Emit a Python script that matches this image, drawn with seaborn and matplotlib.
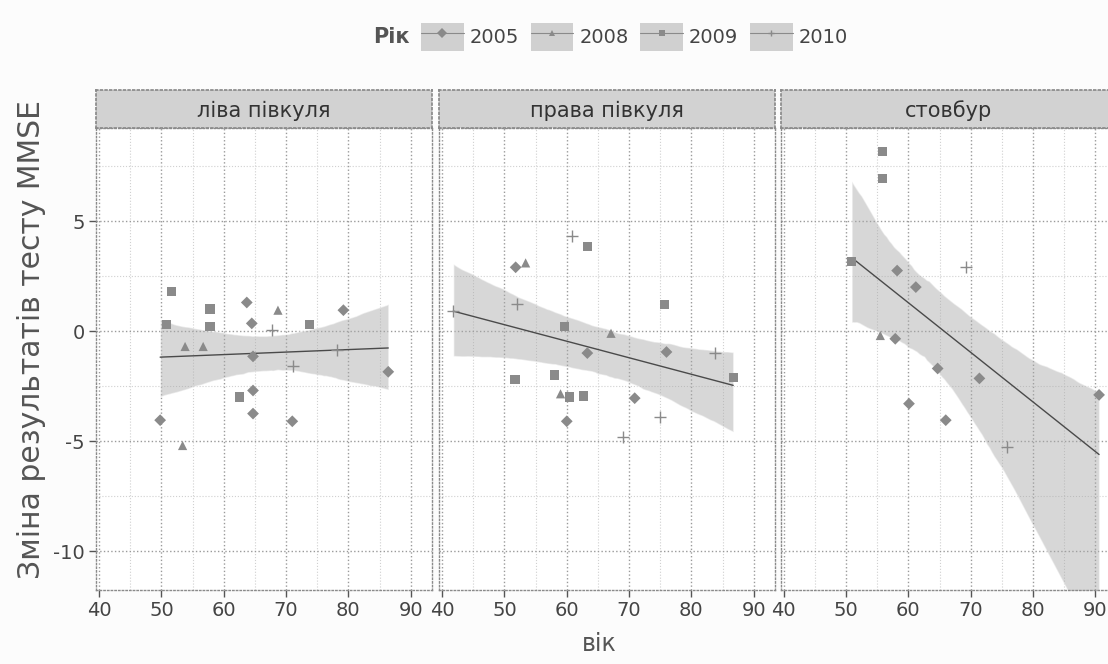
import matplotlib
matplotlib.use('Agg')
import matplotlib.pyplot as plt
import seaborn as sns
import pandas as pd
from matplotlib.lines import Line2D
from matplotlib.patches import Patch

# Зміна результатів MMSE залежно від віку, по локалізації ураження
regions = ['ліва півкуля', 'права півкуля', 'стовбур']
years = ['2005', '2008', '2009', '2010']

left_age = [51.6, 57.8, 63.7, 68.7, 79.2, 50.8, 57.8, 64.5, 73.8, 53.8, 56.7, 64.7,
            86.4, 67.7, 71.1, 78.1, 64.7, 62.5, 64.7, 49.8, 71.0, 53.4]
left_change = [1.8, 1.0, 1.3, 0.95, 0.95, 0.3, 0.2, 0.35, 0.3, -0.7, -0.7, -1.15,
               -1.85, 0.05, -1.6, -0.85, -2.7, -3.0, -3.75, -4.05, -4.1, -5.2]
left_year = ['2009', '2009', '2005', '2008', '2005', '2009', '2009', '2005', '2009', '2008', '2008', '2005',
             '2005', '2010', '2010', '2010', '2005', '2009', '2005', '2005', '2005', '2008']

right_age = [60.9, 63.3, 51.8, 53.4, 52.0, 41.8, 75.7, 59.6, 67.1, 63.3, 76.0, 86.7,
             51.7, 58.0, 59.0, 60.4, 62.7, 60.0, 70.9, 74.9, 69.0, 83.8]
right_change = [4.3, 3.85, 2.9, 3.1, 1.25, 0.9, 1.2, 0.2, -0.1, -1.0, -0.95, -2.1,
                -2.2, -2.0, -2.85, -3.0, -2.95, -4.1, -3.05, -3.9, -4.8, -1.0]
right_year = ['2010', '2009', '2005', '2008', '2010', '2010', '2009', '2009', '2008', '2005', '2005', '2009',
              '2009', '2009', '2008', '2009', '2009', '2005', '2005', '2010', '2010', '2010']

stem_age = [55.9, 55.9, 50.9, 58.2, 61.2, 69.3, 55.5, 57.9, 64.7, 71.4, 60.1, 66.0, 90.6, 75.8]
stem_change = [8.15, 6.95, 3.15, 2.75, 2.0, 2.9, -0.2, -0.35, -1.7, -2.15, -3.3, -4.05, -2.9, -5.25]
stem_year = ['2009', '2009', '2009', '2005', '2005', '2010', '2008', '2005', '2005', '2005', '2005', '2005',
             '2005', '2010']

frames = []
for reg, a, c, y in zip(regions, [left_age, right_age, stem_age],
                        [left_change, right_change, stem_change],
                        [left_year, right_year, stem_year]):
    frames.append(pd.DataFrame({'область': reg, 'вік': a, 'зміна': c, 'рік': y}))
df = pd.concat(frames, ignore_index=True)

markers = {'2005': 'D', '2008': '^', '2009': 's', '2010': '+'}
msize = {'2005': 36, '2008': 44, '2009': 44, '2010': 80}

sns.set_theme(style='white')
plt.rcParams['font.family'] = ['DejaVu Sans']
plt.rcParams['axes.unicode_minus'] = False

fig = plt.figure(figsize=(11.08, 6.64), dpi=100)
fig.patch.set_facecolor('#fcfcfc')

panel_left = [0.0866, 0.3962, 0.7045]
pt_gray = '#8a8a8a'

for i, reg in enumerate(regions):
    sub = df[df['область'] == reg]
    ax = fig.add_axes([panel_left[i], 0.1114, 0.3032, 0.6958])
    ax.set_facecolor('white')

    sns.regplot(data=sub, x='вік', y='зміна', ax=ax, scatter=False, ci=95, seed=1,
                line_kws={'color': '#4a4a4a', 'lw': 1.0, 'zorder': 3})
    for coll in ax.collections:
        coll.set_facecolor('#a8a8a8')
        coll.set_alpha(0.45)
        coll.set_zorder(2)

    for yr in years:
        pts = sub[sub['рік'] == yr]
        if yr == '2010':
            sns.scatterplot(data=pts, x='вік', y='зміна', ax=ax, marker='+', s=msize[yr],
                            color=pt_gray, linewidth=1.0, zorder=4)
        else:
            sns.scatterplot(data=pts, x='вік', y='зміна', ax=ax, marker=markers[yr], s=msize[yr],
                            color=pt_gray, edgecolor='none', zorder=4)

    ax.set_xlim(39.5, 93.4)
    ax.set_ylim(-11.77, 9.23)
    ax.set_xticks([40, 50, 60, 70, 80, 90])
    ax.set_xticks([45, 55, 65, 75, 85], minor=True)
    ax.set_yticks([-10, -5, 0, 5])
    ax.set_yticks([-7.5, -2.5, 2.5, 7.5], minor=True)
    ax.grid(which='major', ls=':', color='#9a9a9a', lw=1.0)
    ax.grid(which='minor', ls=':', color='#d0d0d0', lw=0.8)
    ax.set_axisbelow(True)
    for s in ax.spines.values():
        s.set_linestyle(':')
        s.set_color('#8a8a8a')
        s.set_linewidth(1.0)
    ax.tick_params(which='major', direction='out', length=5, width=1.0, color='#555555',
                   labelsize=14, labelcolor='#444444', pad=3, bottom=True, left=(i == 0))
    ax.tick_params(which='minor', length=0)
    if i > 0:
        ax.set_yticklabels([])
    ax.set_xlabel('')
    ax.set_ylabel('')

    # смужка з назвою панелі
    sax = fig.add_axes([panel_left[i], 0.8072, 0.3032, 0.0572])
    sax.set_facecolor('#d2d2d2')
    sax.set_xticks([])
    sax.set_yticks([])
    for s in sax.spines.values():
        s.set_linestyle(':')
        s.set_color('#8a8a8a')
    sax.text(0.5, 0.45, reg, ha='center', va='center', fontsize=15, color='#333333',
             transform=sax.transAxes)

fig.text(0.541, 0.030, 'вік', ha='center', va='center', fontsize=17, color='#555555')
fig.text(0.028, 0.488, 'Зміна результатів тесту MMSE', rotation=90, ha='center', va='center',
         fontsize=21.5, color='#555555')

handles = []
for yr in years:
    lw_m = 1.0 if yr == '2010' else 0
    line = Line2D([], [], color='#8a8a8a', lw=0.8, marker=markers[yr], markersize=5,
                  markerfacecolor=pt_gray, markeredgecolor=pt_gray, markeredgewidth=lw_m)
    handles.append((Patch(facecolor='#d0d0d0', edgecolor='none'), line))
fig.legend(handles, years, loc='center left', bbox_to_anchor=(0.380, 0.944), ncol=4, frameon=False,
           fontsize=14, handlelength=2.2, handleheight=1.8, handletextpad=0.3,
           columnspacing=0.6, labelcolor='#444444', borderpad=0, borderaxespad=0)
fig.text(0.353, 0.944, 'Рік', ha='center', va='center', fontsize=15, fontweight='bold',
         color='#555555')

plt.savefig('out.png', dpi=100, facecolor=fig.get_facecolor())
